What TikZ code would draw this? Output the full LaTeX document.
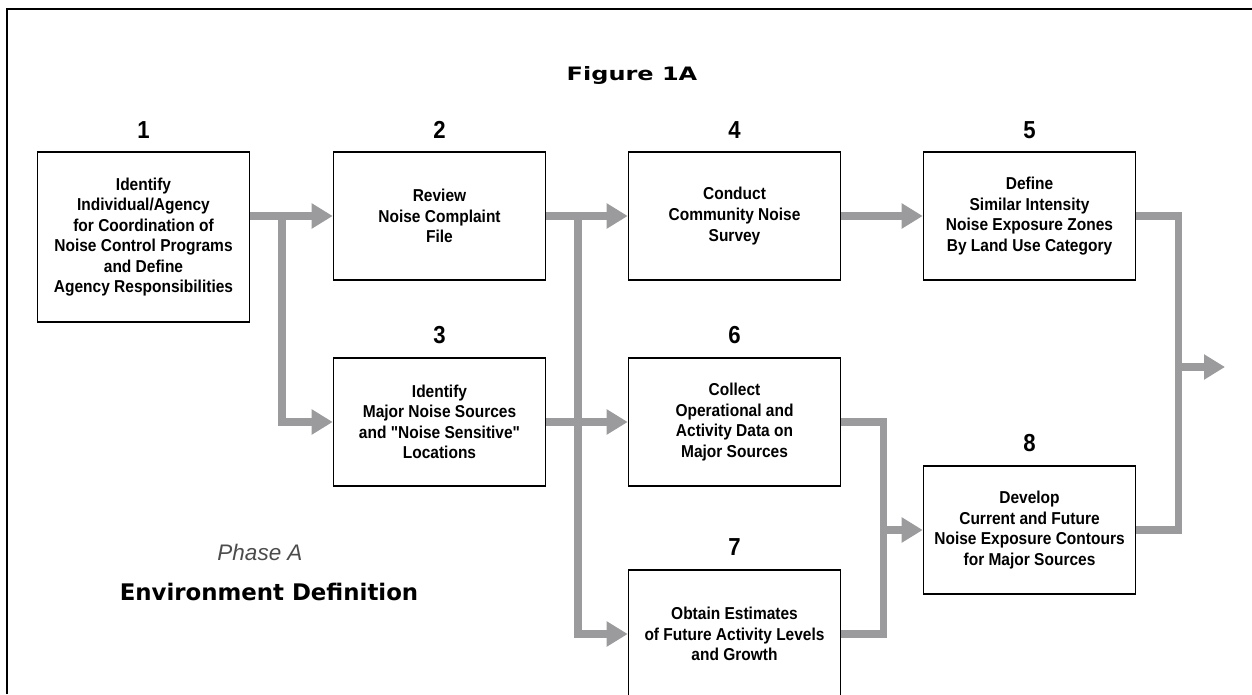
\documentclass[tikz,border=0pt]{standalone}
\usepackage{fontspec}
\usetikzlibrary{arrows.meta}
\setmainfont{Liberation Sans}
\newfontfamily\condfont[FakeStretch=0.9]{Liberation Sans}
\newfontfamily\heavyfont{DejaVu Sans}
\newfontfamily\titlefont[FakeStretch=1.3]{DejaVu Sans}
\definecolor{flowgray}{RGB}{155,155,158}

\begin{document}
\begin{tikzpicture}[
  box/.style={draw=black,line width=0.9pt,minimum width=4.24cm,minimum height=2.56cm,
    align=center,inner sep=2pt,font=\condfont\bfseries\fontsize{9.8}{11.7}\selectfont},
  tallbox/.style={box,minimum height=3.4cm},
  num/.style={font=\condfont\bfseries\fontsize{14}{16}\selectfont},
  flowline/.style={draw=flowgray,line width=4pt},
  flow/.style={flowline,-{Triangle[length=0.42cm,width=0.48cm]}}
]
\useasboundingbox (0,0) rectangle (25.04,13.88);
\clip (0,0) rectangle (25.04,13.88);
% draw frame
\draw[line width=1.2pt] (0.14,0) -- (0.14,13.70) -- (25.2,13.70);
\node[font=\titlefont\bfseries\fontsize{10.5}{12}\selectfont] (title) at (12.64,12.38) {Figure 1A};
% draw step numbers
\node[num] (n1) at (2.87,11.28) {1};
\node[num] (n2) at (8.79,11.28) {2};
\node[num] (n4) at (14.69,11.28) {4};
\node[num] (n5) at (20.59,11.28) {5};
\node[num] (n3) at (8.79,7.18) {3};
\node[num] (n6) at (14.69,7.18) {6};
\node[num] (n8) at (20.59,5.02) {8};
\node[num] (n7) at (14.69,2.94) {7};
% draw boxes
\node[tallbox] (b1) at (2.87,9.14) {Identify\\Individual/Agency\\for Coordination of\\Noise Control Programs\\and Define\\Agency Responsibilities};
\node[box] (b2) at (8.79,9.56) {Review\\Noise Complaint\\File};
\node[box] (b3) at (8.79,5.44) {Identify\\Major Noise Sources\\and "Noise Sensitive"\\Locations};
\node[box] (b4) at (14.69,9.56) {Conduct\\Community Noise\\Survey};
\node[box] (b6) at (14.69,5.44) {Collect\\Operational and\\Activity Data on\\Major Sources};
\node[box] (b7) at (14.69,1.20) {Obtain Estimates\\of Future Activity Levels\\and Growth};
\node[box] (b5) at (20.59,9.56) {Define\\Similar Intensity\\Noise Exposure Zones\\By Land Use Category};
\node[box] (b8) at (20.59,3.28) {Develop\\Current and Future\\Noise Exposure Contours\\for Major Sources};
% branch points
\coordinate (s1) at (5.64,9.56);
\coordinate (s2) at (11.56,9.56);
\coordinate (j1) at (17.66,3.28);
\coordinate (j2) at (23.56,6.54);
\coordinate (out) at (24.50,6.54);
% draw flow arrows
\draw[flow] (b1.east |- b2.west) -- (b2.west);
\draw[flow] (s1) |- (b3.west);
\draw[flow] (b2.east) -- (b4.west);
\draw[flow] (s2) |- (b7.west);
\draw[flow] (b3.east) -- (b6.west);
\draw[flow] (b4.east) -- (b5.west);
%
\draw[flowline] (b6.east) -| (j1);
\draw[flowline] (b7.east) -| (j1);
\draw[flow] (j1) -- (b8.west);
%
\draw[flowline] (b5.east) -| (j2);
\draw[flowline] (b8.east) -| (j2);
\draw[flow] (j2) -- (out);
% draw phase description
\node[text=black!70,font=\itshape\fontsize{12.8}{15}\selectfont] (phase) at (5.20,2.84) {Phase A};
\node[font=\heavyfont\bfseries\fontsize{13}{15}\selectfont] (envdef) at (5.38,2.04) {Environment Definition};
\end{tikzpicture}
\end{document}
